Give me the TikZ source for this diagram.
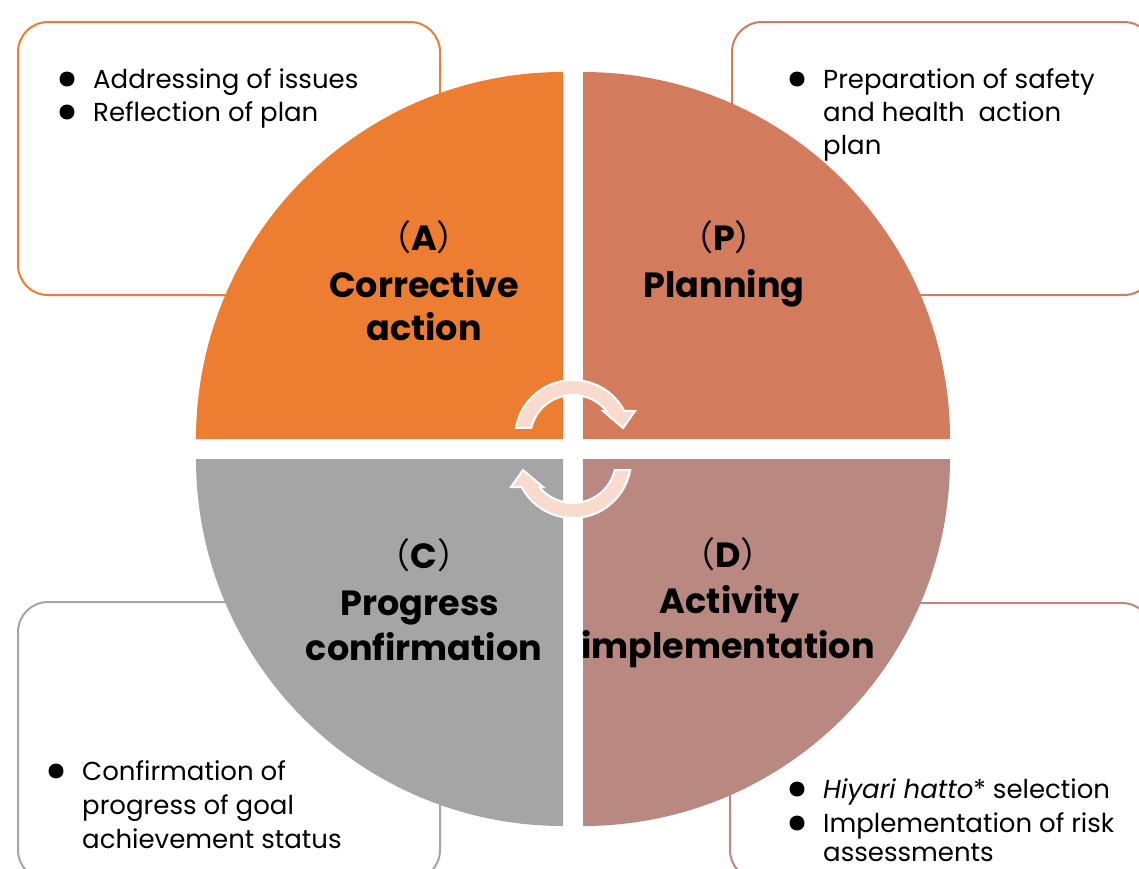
\documentclass[tikz,border=0pt]{standalone}
\usepackage{fontspec}
\setmainfont{Poppins}
\newfontfamily\cjk{Noto Sans CJK JP}
\definecolor{colA}{HTML}{ED7D31}
\definecolor{colP}{HTML}{D27B5D}
\definecolor{colC}{HTML}{A5A5A5}
\definecolor{colD}{HTML}{B98880}
\definecolor{arrowfill}{HTML}{F8DACF}
\newcommand{\fw}[1]{{\cjk\fontseries{m}\selectfont #1}}
\tikzset{
  infobox/.style={line width=2pt, fill=white, rounded corners=30pt},
  quad/.style={draw=none},
  cyclearrow/.style={fill=arrowfill, draw=white, line width=2pt, line join=miter},
  ttl/.style={anchor=base, inner sep=0pt, font=\fontsize{35}{43}\selectfont\bfseries},
  itm/.style={anchor=base west, inner sep=0pt, font=\fontsize{26}{33}\selectfont},
  dot/.style={fill=black}
}
\begin{document}
\begin{tikzpicture}[x=1pt,y=-1pt]
\useasboundingbox (0,0) rectangle (1139,868);
\clip (0,0) rectangle (1139,868);
% side boxes
\draw[infobox, draw=colA] (18,22) rectangle (440,295);
\draw[infobox, draw=colP] (732,22) rectangle (1154,295);
\draw[infobox, draw=colC] (18,602) rectangle (440,880);
\draw[infobox, draw=colD] (730,603) rectangle (1152,880);
% quadrants
\fill[colA] (563,439) -- (196,439) arc[start angle=180, end angle=270, radius=367] -- cycle;
\fill[colP] (583,439) -- (583,72) arc[start angle=270, end angle=360, radius=367] -- cycle;
\fill[colC] (563,459) -- (563,826) arc[start angle=90, end angle=180, radius=367] -- cycle;
\fill[colD] (583,459) -- (950,459) arc[start angle=0, end angle=90, radius=367] -- cycle;
% cycle arrows
\begin{scope}[shift={(573,438)}]
\filldraw[cyclearrow] (-170:58) arc[start angle=-170, end angle=-27.8, radius=58]
  -- (62,-27) -- (50,-10) -- (30,-27) -- (33.5,-27)
  arc[start angle=-38.9, end angle=-166.5, radius=43] -- cycle;
\end{scope}
\begin{scope}[rotate around={180:(573,449)}]
\begin{scope}[shift={(573,438)}]
\filldraw[cyclearrow] (-170:58) arc[start angle=-170, end angle=-27.8, radius=58]
  -- (62,-27) -- (50,-10) -- (30,-27) -- (33.5,-27)
  arc[start angle=-38.9, end angle=-166.5, radius=43] -- cycle;
\end{scope}
\end{scope}
% quadrant titles
\node[ttl] (a0) at (424,250) {\fw{（}A\fw{）}};
\node[ttl] (a1) at (424,297) {Corrective};
\node[ttl] (a2) at (424,340) {action};
\node[ttl] (p0) at (724,250) {\fw{（}P\fw{）}};
\node[ttl] (p1) at (724,297) {Planning};
\node[ttl] (c0) at (424,568) {\fw{（}C\fw{）}};
\node[ttl] (c1) at (420,615) {Progress};
\node[ttl] (c2) at (424,660) {confirmation};
\node[ttl] (d0) at (728,567) {\fw{（}D\fw{）}};
\node[ttl] (d1) at (730,613) {Activity};
\node[ttl] (d2) at (728,658) {implementation};
% box items
\fill[dot] (67,79) circle (7.5);
\node[itm] (tl1) at (93,88) {Addressing of issues};
\fill[dot] (67,112) circle (7.5);
\node[itm] (tl2) at (93,121) {Reflection of plan};
\fill[dot] (797,79) circle (7.5);
\node[itm] (tr1) at (823,88) {Preparation of safety};
\node[itm] (tr2) at (823,121) {and health\ \ action};
\node[itm] (tr3) at (823,154) {plan};
\fill[dot] (56,771) circle (7.5);
\node[itm] (bl1) at (82,780) {Confirmation of};
\node[itm] (bl2) at (82,814) {progress of goal};
\node[itm] (bl3) at (82,848) {achievement status};
\fill[dot] (797,789) circle (7.5);
\node[itm] (br1) at (823,798) {\textit{Hiyari hatto}* selection};
\fill[dot] (797,823) circle (7.5);
\node[itm] (br2) at (823,832) {Implementation of risk};
\node[itm] (br3) at (823,861) {assessments};
\end{tikzpicture}
\end{document}
